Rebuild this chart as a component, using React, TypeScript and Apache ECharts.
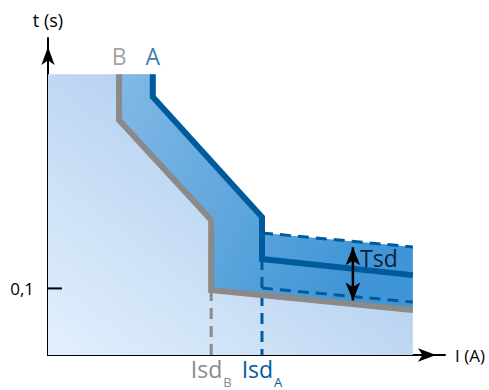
import React, { useEffect, useRef } from "react";
import * as echarts from "echarts";

// Schematic units: current I (x) and time t (y), both on a 0..100 scale
const topT = 88.6;
const iEnd = 91.9;
const curveB = [[17.9, topT], [17.9, 74.1], [41.1, 42.6], [41.1, 20.5], [iEnd, 14.2]];
const curveA = [[26.4, topT], [26.4, 81.4], [53.9, 43.5], [53.9, 30.3], [iEnd, 25.2]];
const tsdUpper = [[53.9, 38.5], [iEnd, 34.1]];
const tsdLower = [[53.9, 21.1], [iEnd, 16.7]];
const isdB = 41.1;
const isdA = 53.9;
const isdBDrop = [[isdB, 20.5], [isdB, 0]];
const isdADrop = [[isdA, 30.3], [isdA, 0]];
const tsdArrow = [[76.8, 34.0], [76.8, 17.2]];
const tsdLabelPos = [78.6, 30.6];
const yTickValue = 21;
const yTickLabel = "0,1";
const yTickSeg = [[-1.5, yTickValue], [3.5, yTickValue]];
const curveNames = ["B", "A"];

const BLUE = "#005b9c";
const GRAY = "#8a8a8a";
const FONT = "Open Sans";

export default function App() {
  const ref = useRef<HTMLDivElement>(null);
  useEffect(() => {
    document.body.style.margin = "0";
    const chart = echarts.init(ref.current!, null, { renderer: "svg" });
    const envelope = [
      [0, topT], curveA[0], curveA[1], curveA[2], tsdUpper[0], tsdUpper[1], [iEnd, 0], [0, 0],
    ];
    const band = [
      curveB[0], curveA[0], curveA[1], curveA[2], tsdUpper[0], tsdUpper[1],
      curveB[4], curveB[3], curveB[2], curveB[1],
    ];
    const poly = (pts: number[][], fill: any, z: number) => ({
      type: "custom", z, data: [0], silent: true,
      renderItem: (_p: any, api: any) => ({
        type: "polygon",
        shape: { points: pts.map((p) => api.coord(p)) },
        style: { fill },
      }),
    });
    const nameLabel = (pos: number[], text: string, color: string) => ({
      type: "scatter", z: 7, symbolSize: 0, data: [pos],
      label: { show: true, position: "top", distance: 7, formatter: text, fontSize: 23, color, fontFamily: FONT },
    });
    const option: any = {
      animation: false,
      textStyle: { fontFamily: FONT },
      grid: { left: 48, top: 38, right: 44, bottom: 35, containLabel: false, outerBoundsMode: "none" },
      xAxis: {
        type: "value", min: 0, max: 100,
        splitLine: { show: false },
        axisLine: { lineStyle: { color: "#000", width: 2 }, symbol: ["none", "arrow"], symbolSize: [10, 18], symbolOffset: [0, -9] },
        axisTick: { show: false },
        name: "I (A)", nameLocation: "end", nameGap: 10,
        nameTextStyle: { fontSize: 17, color: "#000", fontFamily: FONT },
        axisLabel: {
          customValues: [isdB, isdA],
          margin: 2,
          formatter: (v: number) => (Math.abs(v - isdB) < 0.01 ? "{b|Isd}{bs|B}" : "{a|Isd}{as|A}"),
          rich: {
            b: { fontSize: 23, color: GRAY, fontFamily: FONT, lineHeight: 22, verticalAlign: "top" },
            bs: { fontSize: 13, color: GRAY, fontFamily: FONT, verticalAlign: "top", padding: [18, 0, 0, 1] },
            a: { fontSize: 23, color: BLUE, fontFamily: FONT, lineHeight: 22, verticalAlign: "top" },
            as: { fontSize: 13, color: BLUE, fontFamily: FONT, verticalAlign: "top", padding: [18, 0, 0, 1] },
          },
        },
      },
      yAxis: {
        type: "value", min: 0, max: 100,
        splitLine: { show: false },
        axisLine: { lineStyle: { color: "#000", width: 2 }, symbol: ["none", "arrow"], symbolSize: [10, 18], symbolOffset: [0, -9] },
        axisTick: { show: false },
        name: "t (s)", nameLocation: "end", nameGap: 9,
        nameTextStyle: { fontSize: 18, color: "#000", fontFamily: FONT },
        axisLabel: {
          customValues: [yTickValue],
          margin: 14,
          formatter: () => yTickLabel,
          fontSize: 17, color: "#000", fontFamily: FONT,
        },
      },
      series: [
        poly(envelope, new echarts.graphic.LinearGradient(0, 1, 1, 0, [
          { offset: 0, color: "#e3f0fd" },
          { offset: 1, color: "#9cbfe8" },
        ]), 1),
        poly(band, new echarts.graphic.LinearGradient(0, 0, 1, 0.4, [
          { offset: 0, color: "#82b9e6" },
          { offset: 1, color: "#3f95d6" },
        ]), 2),
        { type: "line", data: tsdUpper, symbol: "none", z: 3, lineStyle: { color: BLUE, width: 3, type: [11, 7] } },
        { type: "line", data: tsdLower, symbol: "none", z: 3, lineStyle: { color: BLUE, width: 3, type: [11, 7] } },
        { type: "line", data: isdBDrop, symbol: "none", z: 3, lineStyle: { color: GRAY, width: 3, type: [11, 7] } },
        { type: "line", data: isdADrop, symbol: "none", z: 3, lineStyle: { color: BLUE, width: 3, type: [11, 7] } },
        { type: "line", z: 4, symbol: "none", data: curveB, lineStyle: { color: GRAY, width: 6, join: "miter", cap: "butt" } },
        { type: "line", z: 5, symbol: "none", data: curveA, lineStyle: { color: BLUE, width: 6, join: "miter", cap: "butt" } },
        nameLabel(curveB[0], curveNames[0], GRAY),
        nameLabel(curveA[0], curveNames[1], BLUE),
        {
          type: "line", z: 6, symbol: "arrow", symbolSize: [11, 18], showSymbol: true,
          data: [
            { value: tsdArrow[0], symbolRotate: 0 },
            { value: tsdArrow[1], symbolRotate: 180 },
          ],
          itemStyle: { color: "#000" },
          lineStyle: { color: "#000", width: 2.5 },
        },
        {
          type: "scatter", z: 6, symbolSize: 0, data: [tsdLabelPos],
          label: { show: true, position: "right", distance: 0, formatter: "Tsd", fontSize: 23, color: "#000", fontFamily: FONT },
        },
        {
          type: "line", z: 6, symbol: "none", clip: false, data: yTickSeg,
          lineStyle: { color: "#000", width: 2 },
        },
      ],
    };
    chart.setOption(option);
    return () => chart.dispose();
  }, []);
  return <div ref={ref} style={{ width: 489, height: 390 }} />;
}
